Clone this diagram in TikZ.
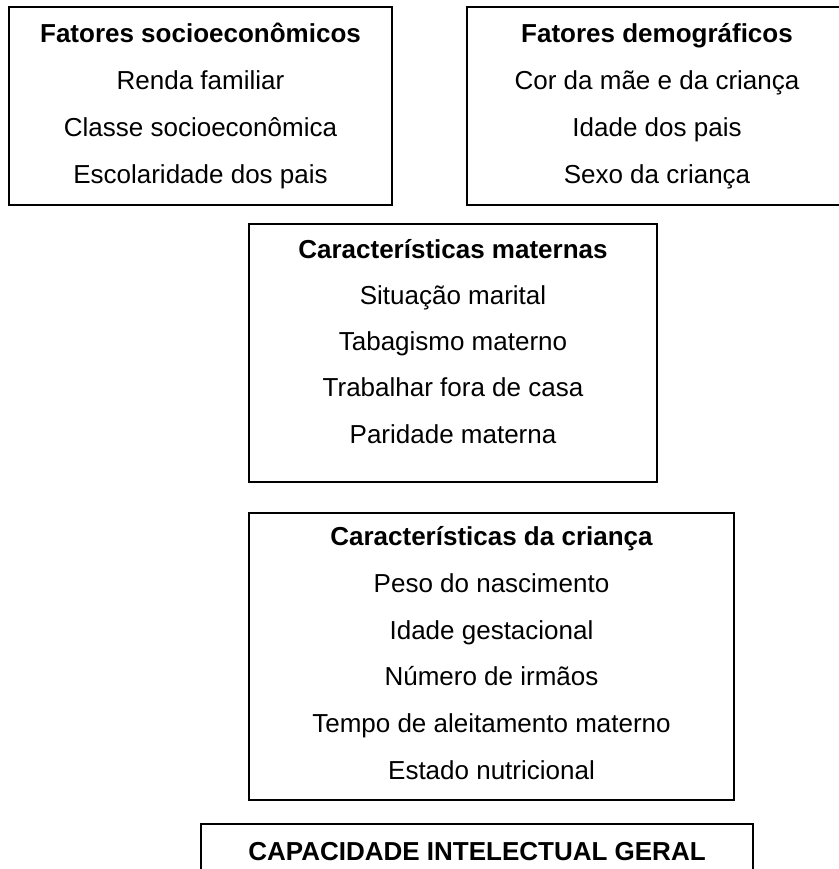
\documentclass[tikz,border=0pt]{standalone}
\usepackage{fontspec}
\setmainfont{Liberation Sans}
\tikzset{
  caixa/.style={draw, line width=1.5pt, inner sep=0pt, outer sep=0pt},
  titulo/.style={anchor=base, inner sep=0pt, font=\fontsize{26}{31}\selectfont\bfseries},
  item/.style={anchor=base, inner sep=0pt, font=\fontsize{26}{31}\selectfont}
}
\begin{document}
\begin{tikzpicture}[x=1pt,y=-1pt]
\useasboundingbox (0,0) rectangle (838,869);
% caixas
\node[caixa, minimum width=383pt, minimum height=198pt] (socio) at (200.5,106) {};
\node[caixa, minimum width=393pt, minimum height=198pt] (demo) at (663.5,106) {};
\node[caixa, minimum width=408pt, minimum height=258pt] (materna) at (453,353) {};
\node[caixa, minimum width=485pt, minimum height=287pt] (crianca) at (491.5,656.5) {};
\node[caixa, minimum width=552pt, minimum height=76pt] (capac) at (477,862) {};
% fatores socioeconomicos
\node[titulo] (socio0) at (200.5,43) {Fatores socioeconômicos};
\node[item] (socio1) at (200.5,90) {Renda familiar};
\node[item] (socio2) at (200.5,137) {Classe socioeconômica};
\node[item] (socio3) at (200.5,183) {Escolaridade dos pais};
% fatores demograficos
\node[titulo] (demo0) at (657,43) {Fatores demográficos};
\node[item] (demo1) at (657,90) {Cor da mãe e da criança};
\node[item] (demo2) at (657,137) {Idade dos pais};
\node[item] (demo3) at (657,183) {Sexo da criança};
% caracteristicas maternas
\node[titulo] (materna0) at (453,258) {Características maternas};
\node[item] (materna1) at (453,304) {Situação marital};
\node[item] (materna2) at (453,350) {Tabagismo materno};
\node[item] (materna3) at (453,396) {Trabalhar fora de casa};
\node[item] (materna4) at (453,443) {Paridade materna};
% caracteristicas da crianca
\node[titulo] (crianca0) at (491.5,545) {Características da criança};
\node[item] (crianca1) at (491.5,592) {Peso do nascimento};
\node[item] (crianca2) at (491.5,639) {Idade gestacional};
\node[item] (crianca3) at (491.5,685) {Número de irmãos};
\node[item] (crianca4) at (491.5,732) {Tempo de aleitamento materno};
\node[item] (crianca5) at (491.5,779) {Estado nutricional};
% capacidade intelectual
\node[titulo] (capac0) at (477,860) {CAPACIDADE INTELECTUAL GERAL};
\end{tikzpicture}
\end{document}
